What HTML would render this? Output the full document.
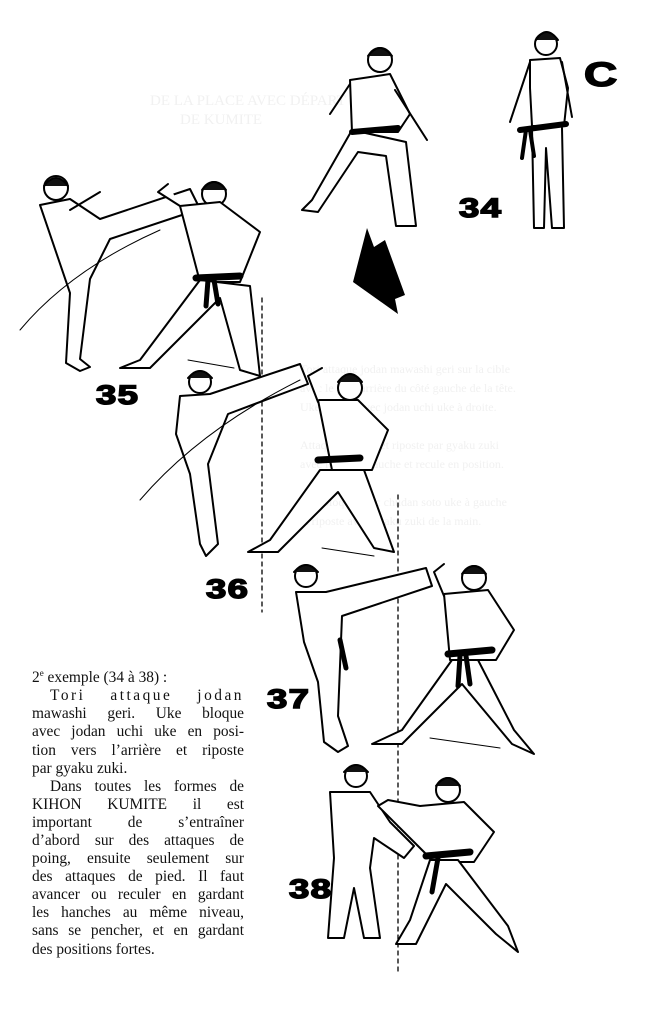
<!DOCTYPE html>
<html><head><meta charset="utf-8"><style>
html,body{margin:0;padding:0;background:#fff}
body{width:663px;height:1024px;position:relative;overflow:hidden;font-family:"Liberation Serif",serif}
.num{position:absolute;font-family:"Liberation Sans",sans-serif;font-weight:900;font-size:27px;color:#000;letter-spacing:1px;transform:scaleX(1.35);transform-origin:left top;-webkit-text-stroke:1.5px #000}
.txt{position:absolute;left:32px;top:664px;width:212px;font-size:15.4px;line-height:18.1px;color:#111}
.txt p{margin:0}
.j{text-align:justify;text-align-last:justify}
.ghost{position:absolute;color:#f1f1f1;font-size:12px;line-height:19px;font-family:"Liberation Serif",serif}
</style></head><body>
<div class="ghost" style="left:150px;top:92px;font-size:15px">DE LA PLACE AVEC DÉPART<br>&nbsp;&nbsp;&nbsp;&nbsp;&nbsp;&nbsp;&nbsp;&nbsp;DE KUMITE</div>
<div class="ghost" style="left:300px;top:360px;width:330px">Tori attaque jodan mawashi geri sur la cible<br>avec le pied arrière du côté gauche de la tête.<br>Uke bloque avec jodan uchi uke à droite.<br><br>Attaque à droite et riposte par gyaku zuki<br>avec le poing gauche et recule en position.<br><br>Uke bloque avec chudan soto uke à gauche<br>et riposte avec gyaku zuki de la main.</div>
<svg width="663" height="1024" style="position:absolute;left:0;top:0" fill="#fff" stroke="#000" stroke-width="2" stroke-linejoin="round" stroke-linecap="round">
<g stroke-dasharray="4,4" stroke-width="1.3"><line x1="262" y1="298" x2="262" y2="612"/><line x1="398" y1="495" x2="398" y2="975"/></g>
<polygon points="367,228 374,247 385,240 405,295 395,299 398,314 353,282" fill="#000" stroke="none"/>
<g><circle cx="546" cy="44" r="11" fill="#fff"/><path d="M536,40 q10,-16 22,0" fill="#111"/>
<path d="M530,60 l30,-2 l8,30 l-4,38 l-32,0 l-2,-38 z"/><path d="M530,62 l-20,60 M562,62 l10,55"/>
<path d="M532,128 l2,100 l10,0 l2,-80 l6,80 l12,0 l-2,-100"/><line x1="520" y1="130" x2="566" y2="124" stroke-width="6"/><path d="M526,130 l-4,28 M530,130 l4,26" stroke-width="4"/></g>
<g><circle cx="380" cy="60" r="12"/><path d="M368,56 q12,-16 24,0" fill="#111"/>
<path d="M350,80 l40,-6 l20,40 l-12,18 l-46,0 z"/><path d="M350,84 l-20,30 M395,90 l32,50"/>
<path d="M352,130 l-40,70 l-10,10 l16,2 l40,-60 l28,4 l10,70 l20,0 l-10,-84 z"/><line x1="352" y1="132" x2="398" y2="128" stroke-width="6"/></g>
<g><circle cx="56" cy="188" r="12"/><path d="M44,186 q12,-16 24,0" fill="#111"/>
<path d="M40,205 l30,-6 l30,20 l90,-30 l10,20 l-90,30 l-20,40 l-10,80 l10,8 l-10,4 l-14,-8 l4,-70 z"/><path d="M70,210 l30,-18"/>
<circle cx="214" cy="194" r="12"/><path d="M202,190 q12,-16 24,0" fill="#111"/>
<path d="M180,206 l40,-4 l40,30 l-20,50 l-40,0 z"/><path d="M180,206 l-22,-14 l10,-8"/>
<path d="M200,280 l-60,80 l-20,8 l30,0 l70,-70 l20,72 l20,6 l-10,-90 z"/><line x1="196" y1="278" x2="240" y2="276" stroke-width="7"/><path d="M208,280 l-2,26 M214,280 l4,24" stroke-width="5"/>
<path d="M20,330 q50,-60 140,-100" fill="none" stroke-width="1"/></g>
<g><circle cx="200" cy="382" r="11"/><path d="M188,378 q12,-14 24,0" fill="#111"/>
<path d="M180,396 l30,-2 l90,-30 l8,20 l-80,30 l-20,50 l10,80 l-12,12 l-6,-12 l-10,-70 l-14,-40 z"/>
<circle cx="350" cy="388" r="12"/><path d="M338,382 q12,-16 24,0" fill="#111"/>
<path d="M318,400 l40,0 l30,30 l-16,40 l-40,0 z"/><path d="M318,402 l-10,-26 l14,-8"/>
<path d="M320,470 l-50,70 l-22,12 l30,0 l60,-60 l36,56 l20,4 l-30,-82 z"/><line x1="318" y1="460" x2="360" y2="458" stroke-width="7"/>
<path d="M140,500 q60,-70 160,-120" fill="none" stroke-width="1"/></g>
<g><circle cx="306" cy="576" r="11"/><path d="M294,572 q12,-14 24,0" fill="#111"/>
<path d="M296,592 l30,0 l100,-24 l6,18 l-90,30 l-4,100 l10,30 l-10,6 l-14,-10 l-6,-60 l-14,-40 z"/><line x1="340" y1="640" x2="346" y2="668" stroke-width="5"/>
<circle cx="474" cy="578" r="12"/><path d="M462,574 q12,-16 24,0" fill="#111"/>
<path d="M444,594 l44,-4 l26,40 l-18,30 l-46,0 z"/><path d="M444,596 l-10,-24 l10,-8"/>
<path d="M452,660 l-50,70 l-30,14 l30,0 l60,-60 l50,60 l22,10 l-20,-24 l-36,-70 z"/><line x1="448" y1="654" x2="492" y2="650" stroke-width="7"/><path d="M460,656 l-2,30 M466,656 l4,28" stroke-width="5"/></g>
<g><circle cx="356" cy="776" r="11"/><path d="M344,772 q12,-14 24,0" fill="#111"/>
<path d="M330,792 l40,0 l20,30 l24,24 l-10,12 l-30,-20 l-4,30 l10,70 l-16,0 l-10,-50 l-10,50 l-16,0 l6,-80 z"/>
<circle cx="448" cy="790" r="12"/><path d="M436,786 q12,-16 24,0" fill="#111"/>
<path d="M420,806 l44,-4 l30,30 l-20,30 l-40,0 l-20,-20 l-36,-36 l10,-6 z"/>
<path d="M430,860 l-20,60 l-14,24 l20,0 l30,-60 l50,50 l22,18 l-10,-26 l-50,-66 z"/><line x1="426" y1="856" x2="470" y2="852" stroke-width="7"/><path d="M438,858 l-6,34" stroke-width="5"/></g>
<g fill="none" stroke-width="1"><path d="M188,360 l46,8"/><path d="M322,548 l52,8"/><path d="M430,738 l70,10"/></g>
</svg>
<div class="num" style="left:584px;top:56px;font-size:34px">C</div>
<div class="num" style="left:459px;top:193px">34</div>
<div class="num" style="left:96px;top:380px">35</div>
<div class="num" style="left:206px;top:574px">36</div>
<div class="num" style="left:267px;top:684px">37</div>
<div class="num" style="left:289px;top:874px">38</div>
<div class="txt">
<p>2<sup style="font-size:9px">e</sup> exemple (34 à 38) :</p>
<p class="j" style="text-indent:18px;letter-spacing:2.5px">Tori attaque jodan</p>
<p class="j">mawashi geri. Uke bloque</p>
<p class="j">avec jodan uchi uke en posi-</p>
<p class="j">tion vers l’arrière et riposte</p>
<p>par gyaku zuki.</p>
<p class="j" style="text-indent:18px">Dans toutes les formes de</p>
<p class="j">KIHON KUMITE il est</p>
<p class="j">important de s’entraîner</p>
<p class="j">d’abord sur des attaques de</p>
<p class="j">poing, ensuite seulement sur</p>
<p class="j">des attaques de pied. Il faut</p>
<p class="j">avancer ou reculer en gardant</p>
<p class="j">les hanches au même niveau,</p>
<p class="j">sans se pencher, et en gardant</p>
<p>des positions fortes.</p>
</div>
</body></html>
